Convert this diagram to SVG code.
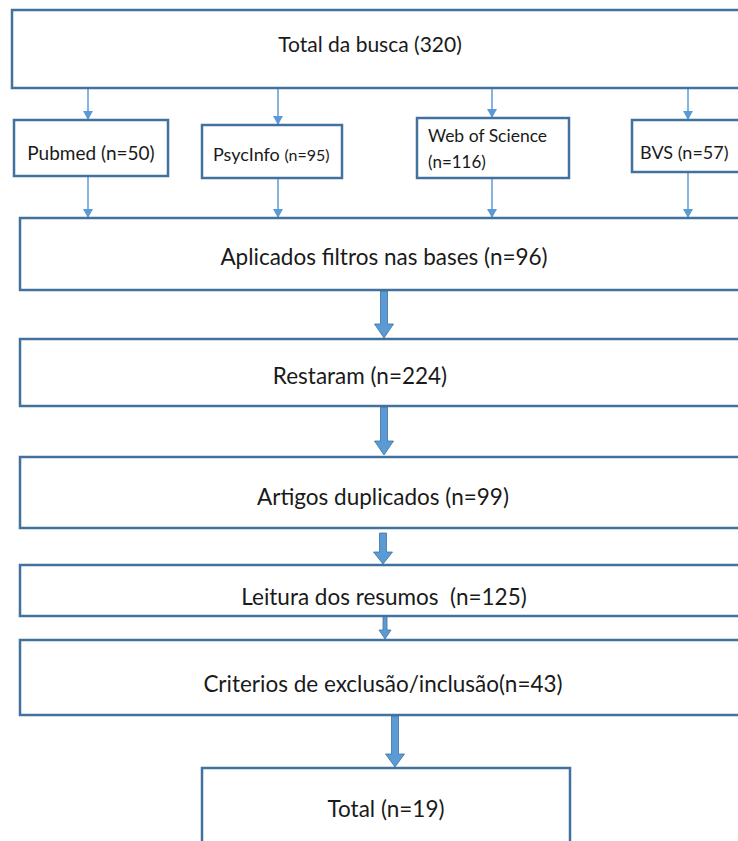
<svg xmlns="http://www.w3.org/2000/svg" width="738" height="841" viewBox="0 0 738 841">
<defs>
<marker id="ah" markerWidth="10" markerHeight="10" refX="8" refY="5" orient="auto" markerUnits="userSpaceOnUse">
<path d="M0,0 L9,5 L0,10 Z" fill="#5b9bd5"/>
</marker>
<style>
.box{fill:#ffffff;stroke:#41719c;stroke-width:2.5}
.t{font-family:Lato,"Open Sans",sans-serif;fill:#1a1a1a;text-anchor:middle;dominant-baseline:central;font-size:22.5px}
.tl{font-family:Lato,"Open Sans",sans-serif;fill:#1a1a1a}
.thin{stroke:#5b9bd5;stroke-width:1.5;fill:none}
.thick{fill:#5b9bd5;stroke:#41719c;stroke-width:0.8}
</style>
</defs>
<rect width="738" height="841" fill="#ffffff"/>
<g id="connectors">
<line class="thin" x1="88" y1="89" x2="88" y2="119" marker-end="url(#ah)"/>
<line class="thin" x1="278" y1="89" x2="278" y2="124" marker-end="url(#ah)"/>
<line class="thin" x1="492" y1="89" x2="492" y2="117" marker-end="url(#ah)"/>
<line class="thin" x1="688" y1="89" x2="688" y2="119" marker-end="url(#ah)"/>
<line class="thin" x1="88" y1="177" x2="88" y2="217" marker-end="url(#ah)"/>
<line class="thin" x1="278" y1="179" x2="278" y2="217" marker-end="url(#ah)"/>
<line class="thin" x1="492" y1="179" x2="492" y2="217" marker-end="url(#ah)"/>
<line class="thin" x1="688" y1="173" x2="688" y2="217" marker-end="url(#ah)"/>
<path class="thick" d="M380.5,291 h7 v33 h6 l-9.5,14 l-9.5,-14 h6 z"/>
<path class="thick" d="M380.5,407 h7 v34 h6 l-9.5,14 l-9.5,-14 h6 z"/>
<path class="thick" d="M379.5,533 h7 v19 h6 l-9.5,12 l-9.5,-12 h6 z"/>
<path class="thick" d="M383,616 h4 v14 h4 l-6,9 l-6,-9 h4 z"/>
<path class="thick" d="M391.5,716 h7 v38 h6 l-9.5,13 l-9.5,-13 h6 z"/>
</g>
<g id="total-busca">
<rect class="box" x="12" y="10" width="740" height="78"/>
<text class="t" x="370" y="43" style="font-size:21px">Total da busca (320)</text>
</g>
<g id="pubmed">
<rect class="box" x="14" y="120" width="154" height="56"/>
<text class="t" x="91" y="152" style="font-size:19px">Pubmed (n=50)</text>
</g>
<g id="psycinfo">
<rect class="box" x="202" y="125" width="140" height="53"/>
<text class="tl" x="213" y="161" font-size="18">PsycInfo <tspan font-size="16">(n=95)</tspan></text>
</g>
<g id="wos">
<rect class="box" x="417" y="118" width="152" height="60"/>
<text class="tl" x="428" y="142" font-size="17.5">Web of Science</text>
<text class="tl" x="428" y="168" font-size="17">(n=116)</text>
</g>
<g id="bvs">
<rect class="box" x="632" y="120" width="120" height="52"/>
<text class="tl" x="640" y="159" font-size="18">BVS (n=57)</text>
</g>
<g id="aplicados">
<rect class="box" x="20" y="218" width="740" height="72"/>
<text class="t" x="384" y="256">Aplicados filtros nas bases (n=96)</text>
</g>
<g id="restaram">
<rect class="box" x="20" y="339" width="740" height="67"/>
<text class="t" x="360" y="375">Restaram (n=224)</text>
</g>
<g id="artigos">
<rect class="box" x="20" y="457" width="740" height="71"/>
<text class="t" x="383" y="496">Artigos duplicados (n=99)</text>
</g>
<g id="leitura">
<rect class="box" x="20" y="565" width="740" height="51"/>
<text class="t" x="384" y="596" xml:space="preserve">Leitura dos resumos  (n=125)</text>
</g>
<g id="criterios">
<rect class="box" x="20" y="640" width="740" height="75"/>
<text class="t" x="383" y="683">Criterios de exclusão/inclusão(n=43)</text>
</g>
<g id="total">
<rect class="box" x="202" y="768" width="368" height="90"/>
<text class="t" x="386" y="808">Total (n=19)</text>
</g>
</svg>
